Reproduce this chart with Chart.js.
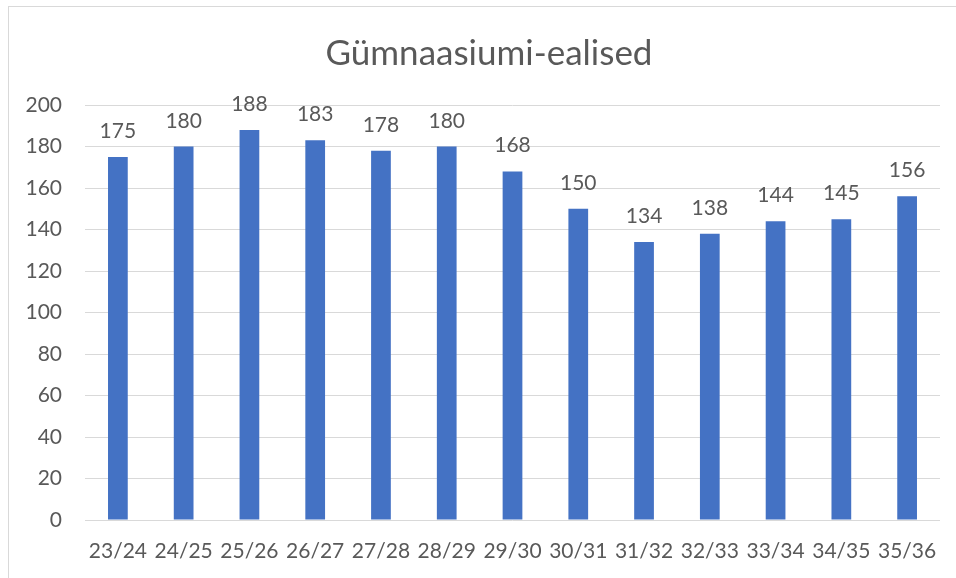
<!DOCTYPE html>
<html>
<head>
<meta charset="utf-8">
<script src="https://cdn.jsdelivr.net/npm/chart.js@4"></script>
<style>
  html, body { margin: 0; padding: 0; background: #fff; overflow: hidden; }
  #frame {
    position: absolute; left: 8px; top: 6px; width: 1000px; height: 700px;
    border: 1px solid #d9d9d9; box-sizing: border-box;
  }
  #chart { position: absolute; left: 0; top: 0; }
</style>
</head>
<body>
<div id="frame"></div>
<canvas id="chart" width="956" height="578"></canvas>
<script>
const years = ["23/24", "24/25", "25/26", "26/27", "27/28", "28/29", "29/30",
  "30/31", "31/32", "32/33", "33/34", "34/35", "35/36"];
const students = [175, 180, 188, 183, 178, 180, 168, 150, 134, 138, 144, 145, 156];
const yTicks = [0, 20, 40, 60, 80, 100, 120, 140, 160, 180, 200];
const titleText = "Gümnaasiumi-ealised";

const textColor = "#595959";
const fontFamily = "Lato, 'Liberation Sans', sans-serif";

// value labels above each bar, and the title centred on the whole frame
const barLabels = {
  id: "barLabels",
  afterDatasetsDraw(chart) {
    const ctx = chart.ctx;
    const meta = chart.getDatasetMeta(0);
    ctx.save();
    ctx.fillStyle = textColor;
    ctx.font = "21px " + fontFamily;
    ctx.textAlign = "center";
    ctx.textBaseline = "alphabetic";
    meta.data.forEach((bar, i) => {
      ctx.fillText(students[i], bar.x, bar.y - 19);
    });
    const tb = chart.titleBlock;
    ctx.font = "35px " + fontFamily;
    ctx.textBaseline = "middle";
    ctx.fillText(titleText, (tb.left + tb.right) / 2 + 19, tb.top + 33 + 21);
    ctx.restore();
  }
};

new Chart(document.getElementById("chart"), {
  type: "bar",
  data: {
    labels: years,
    datasets: [{
      label: titleText,
      data: students,
      backgroundColor: "#4472c4",
      barPercentage: 0.6,
      categoryPercentage: 0.5
    }]
  },
  options: {
    responsive: false,
    animation: false,
    layout: { padding: { left: 0, right: 16, top: 0, bottom: 0 } },
    plugins: {
      legend: { display: false },
      tooltip: { enabled: false },
      title: {
        display: true,
        text: titleText,
        color: "rgba(0,0,0,0)",
        font: { family: fontFamily, size: 35, weight: "normal", lineHeight: 1.2 },
        padding: { top: 33, bottom: 30 }
      }
    },
    scales: {
      x: {
        afterFit(scale) { scale.height = 58; },
        grid: { display: false },
        border: { display: false },
        ticks: { color: textColor, font: { family: fontFamily, size: 21 }, padding: 11, maxRotation: 0 }
      },
      y: {
        min: 0,
        max: 200,
        afterFit(scale) { scale.width = 85; },
        afterBuildTicks(scale) { scale.ticks = yTicks.map(v => ({ value: v })); },
        grid: { color: "#d9d9d9", lineWidth: 1, drawTicks: false },
        border: { display: false },
        ticks: { color: textColor, font: { family: fontFamily, size: 21 }, padding: 23 }
      }
    }
  },
  plugins: [barLabels]
});
</script>
</body>
</html>
